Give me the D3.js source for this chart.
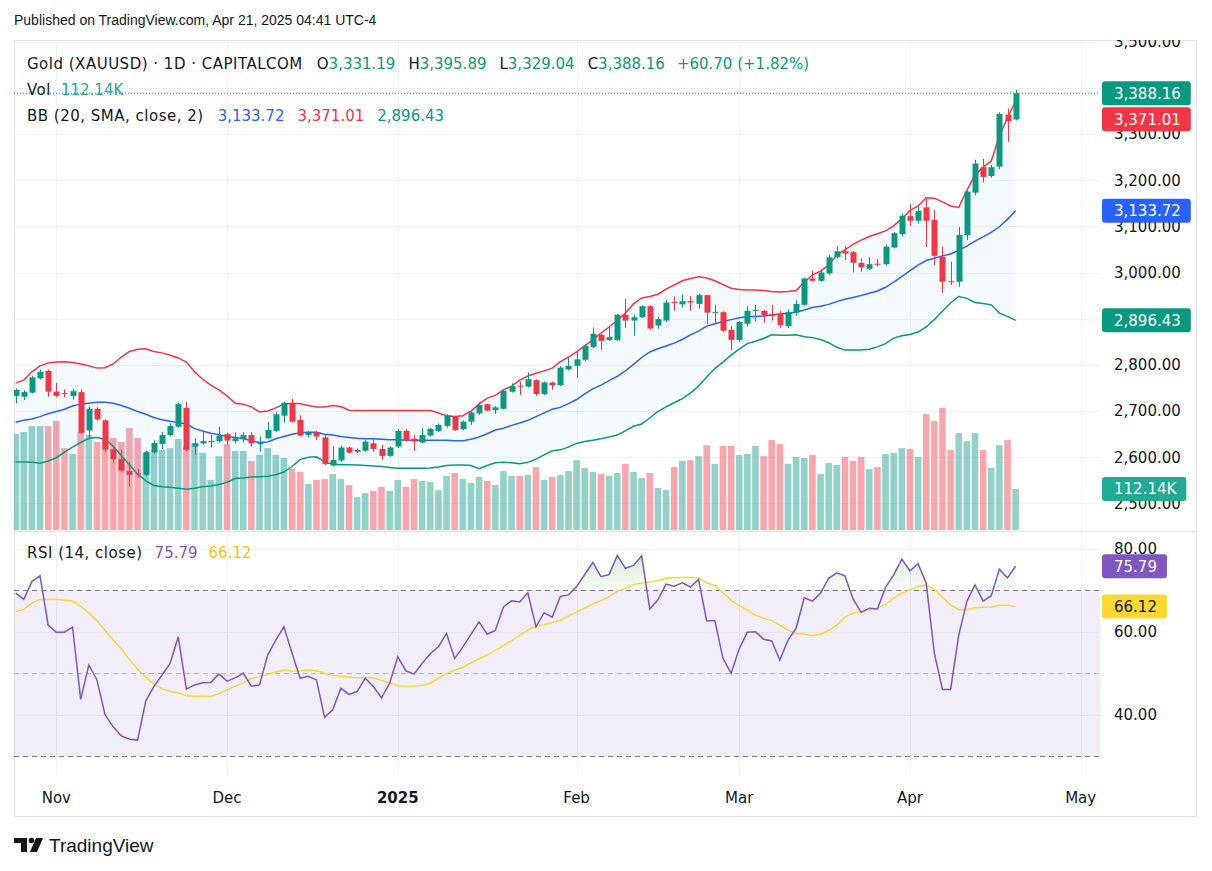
<!DOCTYPE html>
<html>
<head>
<meta charset="utf-8">
<script src="https://cdn.jsdelivr.net/npm/d3@7"></script>
<style>
	html, body { margin: 0; padding: 0; background: #fff; }
	svg text { font-family: "DejaVu Sans", sans-serif; }
</style>
</head>
<body>
<svg id="chart" width="1212" height="871"></svg>
<script>
'use strict';

// Daily bars, Oct 25 2024 .. Apr 21 2025 (index 0 .. 123).
var open = [
	2733, 2731, 2740, 2771, 2787, 2742, 2739, 2733, 2741, 2658,
	2705, 2680, 2617, 2596, 2570, 2565, 2562, 2610, 2629, 2648,
	2666, 2707, 2623, 2630, 2634, 2635, 2650, 2635, 2640, 2648,
	2628, 2641, 2657, 2690, 2717, 2681, 2648, 2654, 2643, 2582,
	2593, 2621, 2612, 2614, 2630, 2618, 2603, 2623, 2657, 2640,
	2632, 2647, 2657, 2668, 2689, 2661, 2677, 2695, 2715, 2702,
	2705, 2742, 2755, 2753, 2767, 2737, 2762, 2756, 2790, 2798,
	2811, 2839, 2865, 2854, 2854, 2908, 2896, 2903, 2927, 2885,
	2896, 2936, 2931, 2938, 2932, 2951, 2912, 2914, 2876, 2854,
	2889, 2918, 2917, 2910, 2910, 2884, 2913, 2930, 2987, 2982,
	2998, 3033, 3046, 3044, 3021, 3008, 3019, 3018, 3054, 3083,
	3122, 3112, 3141, 3114, 3034, 2981, 2980, 3081, 3173, 3228,
	3209, 3229, 3342, 3331.19
];
var high = [
	2749, 2745, 2776, 2790, 2790, 2761, 2747, 2747, 2747, 2709,
	2708, 2682, 2626, 2617, 2590, 2575, 2614, 2637, 2655, 2673,
	2718, 2720, 2641, 2655, 2648, 2666, 2653, 2654, 2654, 2654,
	2645, 2676, 2697, 2720, 2726, 2691, 2657, 2657, 2650, 2624,
	2625, 2623, 2619, 2637, 2639, 2627, 2624, 2660, 2661, 2648,
	2663, 2664, 2673, 2693, 2690, 2680, 2700, 2719, 2716, 2711,
	2746, 2760, 2764, 2784, 2769, 2764, 2764, 2797, 2816, 2829,
	2844, 2881, 2867, 2883, 2910, 2943, 2909, 2929, 2929, 2903,
	2940, 2948, 2953, 2949, 2954, 2952, 2930, 2916, 2884, 2895,
	2927, 2930, 2919, 2930, 2917, 2920, 2940, 2989, 3004, 3004,
	3038, 3057, 3057, 3047, 3031, 3033, 3029, 3060, 3087, 3128,
	3148, 3142, 3161, 3135, 3056, 3023, 3099, 3177, 3244, 3246,
	3233, 3347, 3355, 3395.89
];
var low = [
	2717, 2724, 2738, 2768, 2731, 2730, 2730, 2725, 2650, 2644,
	2679, 2611, 2588, 2569, 2536, 2556, 2559, 2608, 2618, 2645,
	2664, 2613, 2605, 2627, 2621, 2632, 2627, 2630, 2632, 2623,
	2612, 2639, 2655, 2675, 2675, 2645, 2643, 2637, 2583, 2580,
	2590, 2608, 2609, 2612, 2612, 2594, 2601, 2620, 2634, 2614,
	2630, 2645, 2655, 2664, 2657, 2659, 2670, 2692, 2699, 2694,
	2703, 2740, 2735, 2751, 2733, 2734, 2746, 2754, 2788, 2772,
	2808, 2836, 2832, 2852, 2852, 2880, 2863, 2901, 2876, 2878,
	2893, 2917, 2924, 2917, 2922, 2888, 2891, 2871, 2832, 2850,
	2883, 2894, 2891, 2896, 2880, 2880, 2906, 2928, 2980, 2980,
	2995, 3030, 3027, 3000, 3002, 3005, 3013, 3015, 3052, 3078,
	3101, 3106, 3055, 3016, 2956, 2973, 2969, 3070, 3167, 3195,
	3205, 3224, 3283, 3329.04
];
var close = [
	2746, 2741, 2773, 2785, 2742, 2733, 2738, 2743, 2653, 2705,
	2682, 2617, 2596, 2571, 2562, 2564, 2611, 2631, 2648, 2668,
	2715, 2616, 2630, 2635, 2635, 2647, 2636, 2641, 2648, 2630,
	2632, 2659, 2693, 2718, 2677, 2647, 2654, 2645, 2585, 2594,
	2621, 2610, 2616, 2634, 2618, 2603, 2621, 2657, 2636, 2634,
	2648, 2661, 2670, 2690, 2659, 2677, 2697, 2713, 2701, 2708,
	2744, 2754, 2754, 2769, 2737, 2762, 2756, 2794, 2798, 2812,
	2841, 2867, 2852, 2860, 2908, 2896, 2903, 2927, 2879, 2899,
	2935, 2935, 2938, 2935, 2951, 2913, 2914, 2874, 2854, 2893,
	2917, 2919, 2908, 2906, 2886, 2914, 2932, 2987, 2982, 3000,
	3033, 3046, 3041, 3021, 3011, 3018, 3018, 3056, 3085, 3123,
	3112, 3133, 3112, 3036, 2980, 2980, 3081, 3175, 3236, 3207,
	3228, 3343, 3327.46, 3388.16
];
// Volume, thousands.
var volume = [
	263, 268, 284, 284, 284, 298, 224, 208, 268, 260,
	241, 252, 252, 241, 279, 252, 211, 211, 219, 224,
	249, 227, 238, 211, 137, 202, 235, 216, 216, 189,
	205, 224, 205, 197, 167, 159, 126, 137, 139, 153,
	139, 123, 90, 101, 107, 118, 107, 137, 118, 139,
	134, 131, 109, 148, 156, 139, 129, 145, 134, 123,
	161, 148, 148, 150, 172, 137, 145, 150, 161, 191,
	170, 159, 153, 148, 156, 181, 159, 142, 156, 115,
	109, 172, 189, 191, 202, 232, 181, 230, 230, 205,
	208, 230, 202, 246, 235, 181, 200, 197, 205, 153,
	183, 178, 200, 189, 200, 167, 172, 208, 211, 224,
	222, 200, 317, 298, 334, 219, 265, 243, 265, 219,
	170, 232, 246, 112.14
];
// Bollinger bands (20, SMA, close, 2).
var bbUpper = [
	2761, 2767, 2785, 2798, 2804, 2806, 2807, 2805, 2802, 2798,
	2793, 2794, 2802, 2817, 2829, 2834, 2835, 2829, 2826, 2821,
	2815, 2806, 2785, 2769, 2756, 2746, 2733, 2717, 2715, 2709,
	2698, 2700, 2707, 2715, 2717, 2716, 2712, 2709, 2709, 2712,
	2710, 2702, 2701, 2701, 2701, 2701, 2701, 2701, 2701, 2701,
	2701, 2701, 2696, 2690, 2688, 2690, 2700, 2715, 2728, 2734,
	2746, 2754, 2767, 2776, 2782, 2787, 2793, 2807, 2817, 2828,
	2841, 2854, 2869, 2882, 2897, 2912, 2932, 2945, 2948, 2953,
	2964, 2973, 2982, 2987, 2991, 2988, 2982, 2974, 2966, 2963,
	2962, 2962, 2961, 2959, 2958, 2959, 2961, 2979, 2995, 3003,
	3016, 3038, 3049, 3061, 3070, 3078, 3084, 3090, 3101, 3116,
	3134, 3144, 3162, 3161, 3153, 3144, 3141, 3178, 3211, 3228,
	3241, 3296, 3335, 3371.01
];
var bbBasis = [
	2676, 2680, 2683, 2688, 2694, 2699, 2704, 2711, 2715, 2717,
	2719, 2719, 2717, 2712, 2706, 2699, 2693, 2686, 2681, 2678,
	2675, 2672, 2662, 2657, 2652, 2649, 2645, 2643, 2640, 2636,
	2632, 2633, 2640, 2645, 2650, 2653, 2654, 2654, 2650, 2648,
	2645, 2643, 2641, 2640, 2640, 2639, 2638, 2638, 2637, 2637,
	2637, 2637, 2637, 2637, 2636, 2636, 2639, 2644, 2651, 2659,
	2663, 2669, 2674, 2680, 2688, 2696, 2704, 2708, 2716, 2725,
	2737, 2748, 2756, 2766, 2775, 2787, 2801, 2816, 2828, 2835,
	2841, 2847, 2855, 2865, 2873, 2884, 2889, 2894, 2898, 2902,
	2904, 2905, 2906, 2908, 2910, 2912, 2914, 2919, 2924, 2927,
	2931, 2937, 2942, 2946, 2950, 2955, 2960, 2968, 2979, 2991,
	3004, 3016, 3026, 3031, 3036, 3040, 3048, 3057, 3068, 3077,
	3087, 3099, 3115, 3133.72
];
var bbLower = [
	2590, 2590, 2589, 2587, 2592, 2599, 2611, 2622, 2632, 2641,
	2643, 2639, 2624, 2604, 2583, 2564, 2549, 2539, 2536, 2535,
	2533, 2531, 2533, 2536, 2538, 2541, 2546, 2554, 2555, 2557,
	2558, 2559, 2562, 2568, 2580, 2595, 2600, 2601, 2590, 2585,
	2584, 2584, 2583, 2582, 2581, 2580, 2578, 2576, 2576, 2576,
	2576, 2577, 2579, 2582, 2583, 2583, 2582, 2575, 2582, 2588,
	2589, 2588, 2586, 2589, 2596, 2605, 2614, 2616, 2622, 2630,
	2634, 2637, 2640, 2644, 2648, 2657, 2667, 2672, 2685, 2699,
	2709, 2718, 2727, 2739, 2754, 2774, 2792, 2806, 2821, 2834,
	2846, 2851, 2857, 2865, 2864, 2864, 2865, 2861, 2859, 2855,
	2848, 2838, 2832, 2832, 2832, 2834, 2839, 2846, 2858, 2863,
	2866, 2871, 2882, 2898, 2916, 2934, 2948, 2944, 2935, 2933,
	2930, 2912, 2905, 2896.43
];
// RSI (14, close) and its moving average.
var rsi = [
	69.3, 67.8, 72.1, 73.5, 61.6, 59.9, 59.9, 61.1, 43.7, 52.0,
	48.4, 40.0, 37.1, 34.9, 34.1, 33.9, 43.3, 46.8, 49.6, 52.4,
	58.8, 46.2, 47.2, 47.7, 47.8, 49.8, 48.1, 48.9, 50.0, 46.9,
	47.2, 54.4, 58.0, 61.2, 54.8, 48.8, 49.3, 48.4, 39.4, 41.2,
	46.4, 44.9, 45.6, 48.8, 46.8, 44.1, 47.6, 54.0, 50.6, 49.8,
	52.4, 54.7, 56.4, 59.6, 53.6, 56.3, 59.4, 62.4, 59.4, 60.3,
	66.0, 67.5, 67.2, 69.4, 61.2, 64.6, 63.5, 68.5, 68.9, 70.9,
	73.8, 76.7, 73.3, 73.8, 78.4, 75.3, 76.0, 78.3, 65.5, 67.7,
	71.5, 71.0, 71.8, 70.8, 72.6, 62.6, 62.7, 53.6, 50.0, 55.9,
	59.9, 60.0, 58.2, 57.8, 53.2, 58.0, 60.9, 68.2, 67.4, 69.3,
	72.9, 74.2, 73.5, 67.9, 64.7, 65.7, 65.5, 70.7, 73.7, 77.5,
	74.7, 76.4, 71.7, 54.8, 46.1, 46.1, 59.2, 67.3, 71.3, 67.4,
	68.7, 75.1, 73.0, 75.79
];
var rsiMa = [
	64.9, 65.4, 66.9, 67.8, 67.8, 67.8, 67.6, 67.4, 66.2, 64.5,
	62.7, 60.3, 58.0, 55.9, 53.3, 51.0, 49.0, 47.4, 46.3, 45.6,
	45.3, 44.6, 44.5, 44.5, 44.4, 45.1, 46.0, 46.9, 47.7, 48.8,
	49.2, 49.7, 50.3, 50.8, 50.5, 50.6, 50.8, 50.6, 50.0, 49.5,
	49.3, 49.1, 48.9, 48.9, 48.9, 48.3, 47.7, 47.0, 46.8, 46.9,
	47.1, 47.6, 48.8, 50.0, 50.8, 51.4, 52.5, 53.5, 54.4, 55.5,
	56.7, 57.9, 59.2, 60.4, 61.4, 61.7, 62.2, 62.8, 63.8, 64.8,
	65.7, 66.7, 67.5, 68.5, 69.8, 70.4, 71.4, 71.7, 72.0, 72.3,
	72.9, 73.0, 73.1, 73.1, 73.0, 71.8, 71.1, 69.4, 67.6, 66.3,
	65.2, 64.0, 63.3, 62.7, 61.6, 60.4, 59.6, 59.4, 59.1, 59.4,
	60.3, 61.6, 63.5, 64.5, 64.8, 65.3, 65.7, 66.6, 68.1, 69.3,
	70.1, 70.9, 71.3, 70.2, 68.3, 66.5, 65.3, 65.3, 65.8, 65.9,
	66.0, 66.4, 66.4, 66.12
];

// Month labels on the time axis and the bar they sit on.
var monthLabels = ['Nov', 'Dec', '2025', 'Feb', 'Mar', 'Apr', 'May'];
var monthBars = [5, 26, 47, 69, 89, 110, 131];
var priceTicks = [2500, 2600, 2700, 2800, 2900, 3000, 3100, 3200, 3300, 3400, 3500];
var rsiTicks = [40, 60, 80];
var rsiLevels = [70, 50, 30];



var UP = '#089981', DOWN = '#f23645', TEXT = '#131722', GRID = '#f0f2f6';
var last = close.length - 1;
var fmt = d3.format(',.2f');

var svg = d3.select('#chart');
var pane = {left: 14, right: 1100, top: 40, bottom: 531};
var rsiPane = {top: 532, bottom: 775};

// Scales
var x = d3.scaleLinear().domain([0, 131]).range([15.65, 1080.68]);
var y = d3.scaleLinear().domain([2500, 3500]).range([503.45, 41.55]);
var yVol = d3.scaleLinear().domain([0, 1340]).range([530, 40]);
var yRsi = d3.scaleLinear().domain([30, 80]).range([756.3, 548.8]);
var idx = d3.range(close.length);

// Clip paths for the two panes and the price axis.
var defs = svg.append('defs');
defs.append('clipPath').attr('id', 'clipMain').append('rect')
	.attr('x', pane.left).attr('y', pane.top)
	.attr('width', pane.right - pane.left).attr('height', pane.bottom - pane.top);
defs.append('clipPath').attr('id', 'clipRsi').append('rect')
	.attr('x', pane.left).attr('y', rsiPane.top)
	.attr('width', pane.right - pane.left).attr('height', rsiPane.bottom - rsiPane.top);
defs.append('clipPath').attr('id', 'clipAxis').append('rect')
	.attr('x', pane.right).attr('y', pane.top).attr('width', 100).attr('height', pane.bottom - pane.top);
defs.append('clipPath').attr('id', 'clipAxisRsi').append('rect')
	.attr('x', pane.right).attr('y', rsiPane.top).attr('width', 100).attr('height', rsiPane.bottom - rsiPane.top);
defs.append('clipPath').attr('id', 'clipOb').append('rect')
	.attr('x', pane.left).attr('y', rsiPane.top)
	.attr('width', pane.right - pane.left).attr('height', yRsi(70) - rsiPane.top);
var grad = defs.append('linearGradient').attr('id', 'obGrad')
	.attr('gradientUnits', 'userSpaceOnUse')
	.attr('x1', 0).attr('x2', 0).attr('y1', yRsi(80)).attr('y2', yRsi(70));
grad.append('stop').attr('offset', 0).attr('stop-color', '#4caf50').attr('stop-opacity', 0.28);
grad.append('stop').attr('offset', 1).attr('stop-color', '#4caf50').attr('stop-opacity', 0.02);



// Header
svg.append('text')
	.attr('x', 14).attr('y', 25)
	.style('font-family', '"Liberation Sans", Arial, sans-serif')
	.attr('font-size', 14).attr('fill', TEXT)
	.text('Published on TradingView.com, Apr 21, 2025 04:41 UTC-4');

// Frame
svg.append('rect')
	.attr('x', 14.5).attr('y', 40.5).attr('width', 1182).attr('height', 776)
	.attr('fill', 'none').attr('stroke', '#e0e3eb');
svg.append('line')
	.attr('x1', 14).attr('x2', 1197).attr('y1', 531.5).attr('y2', 531.5)
	.attr('stroke', '#e0e3eb');



// Grid
var grid = svg.append('g');
grid.selectAll('.hgrid').data(priceTicks).enter().append('line')
	.attr('clip-path', 'url(#clipMain)')
	.attr('x1', pane.left).attr('x2', pane.right)
	.attr('y1', function(d) { return Math.round(y(d)) + 0.5; })
	.attr('y2', function(d) { return Math.round(y(d)) + 0.5; })
	.attr('stroke', GRID);
grid.selectAll('.rgrid').data(rsiTicks).enter().append('line')
	.attr('x1', pane.left).attr('x2', pane.right)
	.attr('y1', function(d) { return Math.round(yRsi(d)) + 0.5; })
	.attr('y2', function(d) { return Math.round(yRsi(d)) + 0.5; })
	.attr('stroke', GRID);
grid.selectAll('.vgrid').data(monthBars).enter().append('line')
	.attr('x1', function(d) { return Math.round(x(d)) + 0.5; })
	.attr('x2', function(d) { return Math.round(x(d)) + 0.5; })
	.attr('y1', pane.top).attr('y2', rsiPane.bottom)
	.attr('stroke', GRID);



// Main pane
var main = svg.append('g').attr('clip-path', 'url(#clipMain)');

// Volume
main.selectAll('.vol').data(idx).enter().append('rect')
	.attr('x', function(i) { return x(i) - 3.3; })
	.attr('width', 6.6)
	.attr('y', function(i) { return yVol(volume[i]); })
	.attr('height', function(i) { return yVol(0) - yVol(volume[i]); })
	.attr('fill', function(i) { return close[i] >= open[i] ? UP : DOWN; })
	.attr('fill-opacity', 0.44);

// Bollinger bands
main.append('path')
	.attr('d', d3.area().x(function(i) { return x(i); })
		.y0(function(i) { return y(bbLower[i]); })
		.y1(function(i) { return y(bbUpper[i]); })(idx))
	.attr('fill', 'rgba(33,150,243,0.05)');
[[bbUpper, DOWN], [bbBasis, '#2962ff'], [bbLower, UP]].forEach(function(band) {
	main.append('path')
		.attr('d', d3.line().x(function(i) { return x(i); })
			.y(function(i) { return y(band[0][i]); })(idx))
		.attr('fill', 'none').attr('stroke', band[1]).attr('stroke-width', 1.5);
});

// Candles
var candle = main.selectAll('.candle').data(idx).enter().append('g');
candle.append('line')
	.attr('x1', function(i) { return Math.round(x(i)) + 0.5; })
	.attr('x2', function(i) { return Math.round(x(i)) + 0.5; })
	.attr('y1', function(i) { return y(high[i]); })
	.attr('y2', function(i) { return y(low[i]); })
	.attr('stroke', function(i) { return close[i] >= open[i] ? UP : DOWN; });
candle.append('rect')
	.attr('x', function(i) { return Math.round(x(i)) - 2.5; })
	.attr('width', 6)
	.attr('y', function(i) { return y(Math.max(open[i], close[i])); })
	.attr('height', function(i) { return Math.max(1, Math.abs(y(open[i]) - y(close[i]))); })
	.attr('fill', function(i) { return close[i] >= open[i] ? UP : DOWN; });

// Last price line
main.append('line')
	.attr('x1', pane.left).attr('x2', pane.right)
	.attr('y1', y(close[last])).attr('y2', y(close[last]))
	.attr('stroke', UP).attr('stroke-dasharray', '1,2');



// RSI pane
var rsiG = svg.append('g').attr('clip-path', 'url(#clipRsi)');
rsiG.append('rect')
	.attr('x', pane.left).attr('width', pane.right - pane.left)
	.attr('y', yRsi(70)).attr('height', yRsi(30) - yRsi(70))
	.attr('fill', 'rgba(126,87,194,0.1)');
rsiG.selectAll('.lvl').data(rsiLevels).enter().append('line')
	.attr('x1', pane.left).attr('x2', pane.right)
	.attr('y1', function(d) { return Math.round(yRsi(d)) + 0.5; })
	.attr('y2', function(d) { return Math.round(yRsi(d)) + 0.5; })
	.attr('stroke', '#787b86')
	.attr('stroke-opacity', function(d) { return d === 50 ? 0.5 : 1; })
	.attr('stroke-dasharray', '5,4');
rsiG.append('path')
	.attr('clip-path', 'url(#clipOb)')
	.attr('d', d3.area().x(function(i) { return x(i); })
		.y0(yRsi(70))
		.y1(function(i) { return yRsi(rsi[i]); })(idx))
	.attr('fill', 'url(#obGrad)');
rsiG.append('path')
	.attr('d', d3.line().x(function(i) { return x(i); })
		.y(function(i) { return yRsi(rsiMa[i]); })(idx))
	.attr('fill', 'none').attr('stroke', '#fdd835').attr('stroke-width', 1.5);
rsiG.append('path')
	.attr('d', d3.line().x(function(i) { return x(i); })
		.y(function(i) { return yRsi(rsi[i]); })(idx))
	.attr('fill', 'none').attr('stroke', '#7e57c2').attr('stroke-width', 1.5);



// Value tags on the axis, pushed apart when they overlap.
var priceTags = [
	{y: y(close[last]), label: fmt(close[last]), color: UP},
	{y: y(bbUpper[last]), label: fmt(bbUpper[last]), color: DOWN},
	{y: y(bbBasis[last]), label: fmt(bbBasis[last]), color: '#2962ff'},
	{y: y(bbLower[last]), label: fmt(bbLower[last]), color: UP},
	{y: yVol(volume[last]), label: volume[last] + 'K', color: '#22ab94'}
];
var rsiTags = [
	{y: yRsi(rsi[last]), label: rsi[last].toFixed(2), color: '#7e57c2'},
	{y: yRsi(rsiMa[last]), label: rsiMa[last].toFixed(2), color: '#fdd835', textColor: TEXT}
];
function placeTags(tags) {
	tags.sort(function(a, b) { return a.y - b.y; });
	tags.forEach(function(t, k) {
		if (k > 0 && t.y < tags[k - 1].y + 26) t.y = tags[k - 1].y + 26;
	});
}
placeTags(priceTags);
placeTags(rsiTags);

// Axis labels fully hidden behind a tag are left out, as on the original.
function hidden(py, tags) {
	return tags.some(function(t) { return Math.abs(t.y - py) < 8; });
}

// Price axis labels
svg.append('g').attr('clip-path', 'url(#clipAxis)')
	.selectAll('text').data(priceTicks.filter(function(d) { return !hidden(y(d), priceTags); }))
	.enter().append('text')
	.attr('x', 1114).attr('y', function(d) { return y(d); })
	.attr('dy', '0.36em').attr('font-size', 15).attr('fill', TEXT)
	.text(function(d) { return fmt(d); });
svg.append('g').attr('clip-path', 'url(#clipAxisRsi)')
	.selectAll('text').data(rsiTicks).enter().append('text')
	.attr('x', 1114).attr('y', function(d) { return yRsi(d); })
	.attr('dy', '0.36em').attr('font-size', 15).attr('fill', TEXT)
	.text(function(d) { return fmt(d); });

function drawTags(tags) {
	tags.forEach(function(t) {
		var g = svg.append('g');
		var rect = g.append('rect');
		var txt = g.append('text')
			.attr('x', 1114).attr('y', t.y).attr('dy', '0.36em')
			.attr('font-size', 15).attr('fill', t.textColor || '#fff')
			.text(t.label);
		var w = txt.node().getComputedTextLength();
		rect.attr('x', 1102).attr('y', t.y - 12).attr('width', w + 22).attr('height', 24)
			.attr('rx', 3).attr('fill', t.color);
	});
}
drawTags(priceTags);
drawTags(rsiTags);



// Time axis
svg.selectAll('.month').data(monthBars).enter().append('text')
	.attr('x', function(d) { return x(d); })
	.attr('y', 803)
	.attr('text-anchor', 'middle')
	.attr('font-size', 15)
	.attr('font-weight', function(d, k) { return monthLabels[k] === '2025' ? 'bold' : 'normal'; })
	.attr('fill', TEXT)
	.text(function(d, k) { return monthLabels[k]; });



// Legends
function legend(yBase, parts) {
	var t = svg.append('text').attr('x', 27).attr('y', yBase).attr('font-size', 15);
	parts.forEach(function(p) {
		t.append('tspan').attr('dx', p.gap || 0).attr('fill', p.color || TEXT)
			.style('letter-spacing', p.name ? '0.5px' : null)
			.text(p.text);
	});
}
var change = close[last] - close[last - 1];
legend(69, [
	{text: 'Gold (XAUUSD) · 1D · CAPITALCOM', name: true},
	{text: 'O', gap: 14}, {text: fmt(open[last]), color: UP},
	{text: 'H', gap: 13}, {text: fmt(high[last]), color: UP},
	{text: 'L', gap: 13}, {text: fmt(low[last]), color: UP},
	{text: 'C', gap: 13}, {text: fmt(close[last]), color: UP},
	{text: '+' + fmt(change) + ' (+' + (change / close[last - 1] * 100).toFixed(2) + '%)', gap: 12, color: UP}
]);
legend(95, [
	{text: 'Vol', name: true},
	{text: volume[last] + 'K', gap: 10, color: '#22ab94'}
]);
legend(121, [
	{text: 'BB (20, SMA, close, 2)', name: true},
	{text: fmt(bbBasis[last]), gap: 14, color: '#2962ff'},
	{text: fmt(bbUpper[last]), gap: 13, color: DOWN},
	{text: fmt(bbLower[last]), gap: 13, color: UP}
]);
legend(558, [
	{text: 'RSI (14, close)', name: true},
	{text: rsi[last].toFixed(2), gap: 12, color: '#7e57c2'},
	{text: rsiMa[last].toFixed(2), gap: 11, color: '#f5c518'}
]);



// Footer logo
var logo = svg.append('g').attr('fill', TEXT);
logo.append('path').attr('d', 'M14 838 H27 V852 H21 V843 H14 Z');
logo.append('circle').attr('cx', 31.5).attr('cy', 840.5).attr('r', 2.8);
logo.append('path').attr('d', 'M36 838 H43 L37 852 H30 Z');
svg.append('text')
	.attr('x', 49).attr('y', 852)
	.style('font-family', '"Liberation Sans", Arial, sans-serif')
	.attr('font-size', 19).attr('fill', TEXT)
	.text('TradingView');
</script>
</body>
</html>
